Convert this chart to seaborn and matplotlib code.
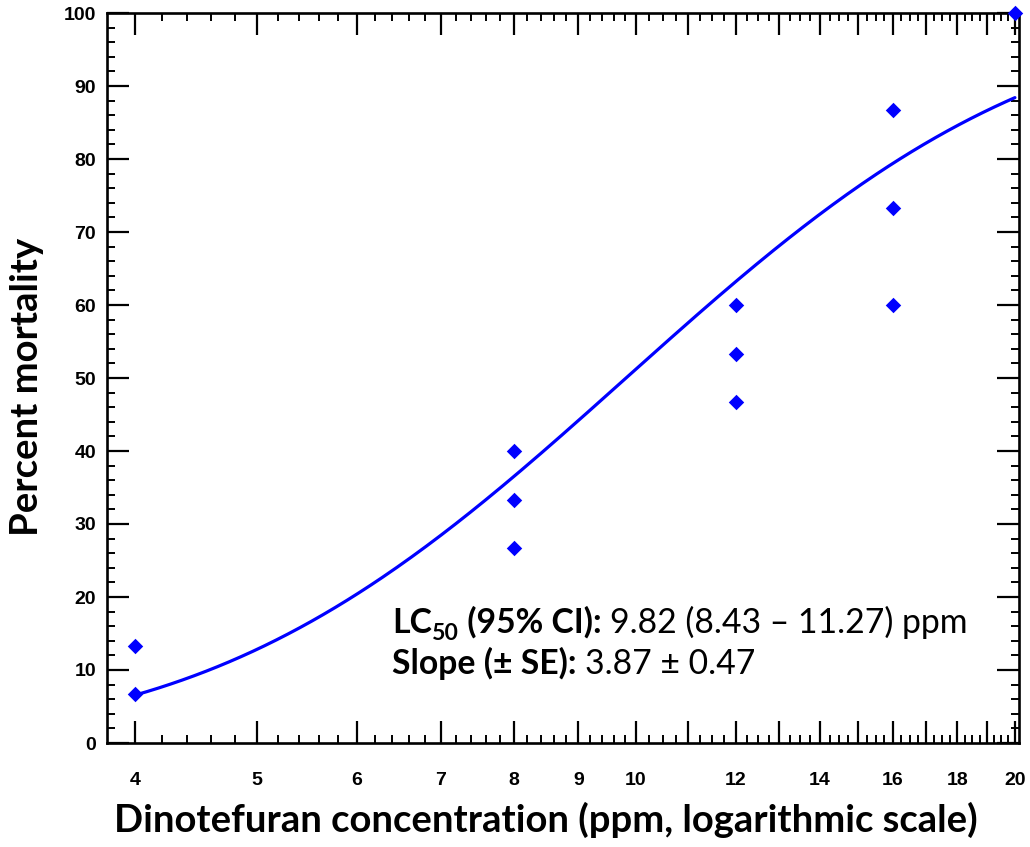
import math
import numpy as np
import pandas as pd
import matplotlib
matplotlib.use("Agg")
import matplotlib.pyplot as plt
import matplotlib.ticker as mticker
import seaborn as sns

# Observed mortality per replicate (percent) at each dinotefuran concentration (ppm)
concentration = [4, 4, 8, 8, 8, 12, 12, 12, 16, 16, 16, 20]
mortality = [6.67, 13.33, 26.67, 33.33, 40.0, 46.67, 53.33, 60.0, 60.0, 73.33, 86.67, 100.0]

# Probit fit parameters
lc50 = 9.82
lc50_ci = (8.43, 11.27)
slope = 3.87
slope_se = 0.47

x_major = list(range(4, 21))
x_labelled = [4, 5, 6, 7, 8, 9, 10, 12, 14, 16, 18, 20]
y_major = list(range(0, 101, 10))

sns.set_theme(style="ticks")
plt.rcParams["font.family"] = ["Liberation Sans", "DejaVu Sans"]
plt.rcParams["text.color"] = "black"
plt.rcParams["axes.labelcolor"] = "black"

obs = pd.DataFrame({"conc": concentration, "mort": mortality})

# Fitted probit curve: mortality = Phi(slope * log10(conc / LC50))
grid = np.geomspace(min(concentration), max(concentration), 300)
fit = [50.0 * (1.0 + math.erf(slope * math.log10(c / lc50) / math.sqrt(2.0))) for c in grid]
curve = pd.DataFrame({"conc": grid, "mort": fit})

fig = plt.figure(figsize=(10.30, 8.47), dpi=100)
ax = fig.add_axes([107 / 1030, 1 - 743 / 847, 912 / 1030, 730 / 847])

blue = "#0000ff"
sns.lineplot(data=curve, x="conc", y="mort", ax=ax, color=blue, linewidth=2.3, zorder=2)
sns.scatterplot(data=obs, x="conc", y="mort", ax=ax, color=blue, marker="D",
                s=62, linewidth=0, zorder=3, clip_on=False)

ax.set_xscale("log")
ax.set_xlim(3.80, 20.15)
ax.set_ylim(0, 100)

ax.xaxis.set_major_locator(mticker.FixedLocator(x_major))
ax.xaxis.set_major_formatter(mticker.FixedFormatter(
    [str(v) if v in x_labelled else "" for v in x_major]))
minor_x = [round(v, 2) for v in np.arange(4.0, 10.0, 0.2)] + \
          [round(v, 2) for v in np.arange(10.0, 20.0, 0.25)]
minor_x = [v for v in minor_x if abs(v - round(v)) > 1e-6]
ax.xaxis.set_minor_locator(mticker.FixedLocator(minor_x))
ax.xaxis.set_minor_formatter(mticker.NullFormatter())

ax.yaxis.set_major_locator(mticker.FixedLocator(y_major))
ax.yaxis.set_minor_locator(mticker.MultipleLocator(2))

for side in ["left", "right", "top", "bottom"]:
    ax.spines[side].set_visible(True)
    ax.spines[side].set_linewidth(1.9)
    ax.spines[side].set_color("black")

ax.tick_params(which="both", direction="in", top=True, right=True, color="black")
ax.tick_params(which="major", length=15.5, width=1.6)
ax.tick_params(which="minor", length=5.5, width=1.4)
ax.tick_params(axis="x", which="major", pad=21, labelsize=14, labelcolor="black")
ax.tick_params(axis="y", which="major", pad=8, labelsize=14, labelcolor="black")
for lab in ax.get_xticklabels() + ax.get_yticklabels():
    lab.set_fontweight("bold")

ax.set_xlabel("")
ax.set_ylabel("")

label_font = ["Lato", "DejaVu Sans"]
fig.text(546 / 1030, 1 - 820 / 847, "Dinotefuran concentration (ppm, logarithmic scale)",
         ha="center", va="center", fontsize=27.5, fontweight="bold", family=label_font,
         color="black")
fig.text(27 / 1030, 1 - 387 / 847, "Percent mortality", rotation=90,
         ha="center", va="center", fontsize=27.5, fontweight="bold", family=label_font,
         color="black")

# Fit summary, written piece by piece (bold captions, regular values)
fig.canvas.draw()
renderer = fig.canvas.get_renderer()
fs = 24.3


def write_run(x_px, y_px, pieces):
    for text, weight, size, dy in pieces:
        t = fig.text(x_px / 1030, 1 - (y_px + dy) / 847, text, ha="left", va="baseline",
                     fontsize=size, fontweight=weight, family=label_font, color="black")
        bb = t.get_window_extent(renderer=renderer)
        x_px += bb.width


write_run(392, 633, [
    ("LC", "bold", fs, 0),
    ("50", "bold", fs * 0.68, 7),
    (" (95% CI): ", "bold", fs, 0),
    (f"{lc50:.2f} ({lc50_ci[0]:.2f} \u2013 {lc50_ci[1]:.2f}) ppm", "normal", fs, 0),
])
write_run(392, 674, [
    ("Slope (\u00b1 SE): ", "bold", fs, 0),
    (f"{slope:.2f} \u00b1 {slope_se:.2f}", "normal", fs, 0),
])

fig.savefig("out.png", dpi=100, facecolor="white")
